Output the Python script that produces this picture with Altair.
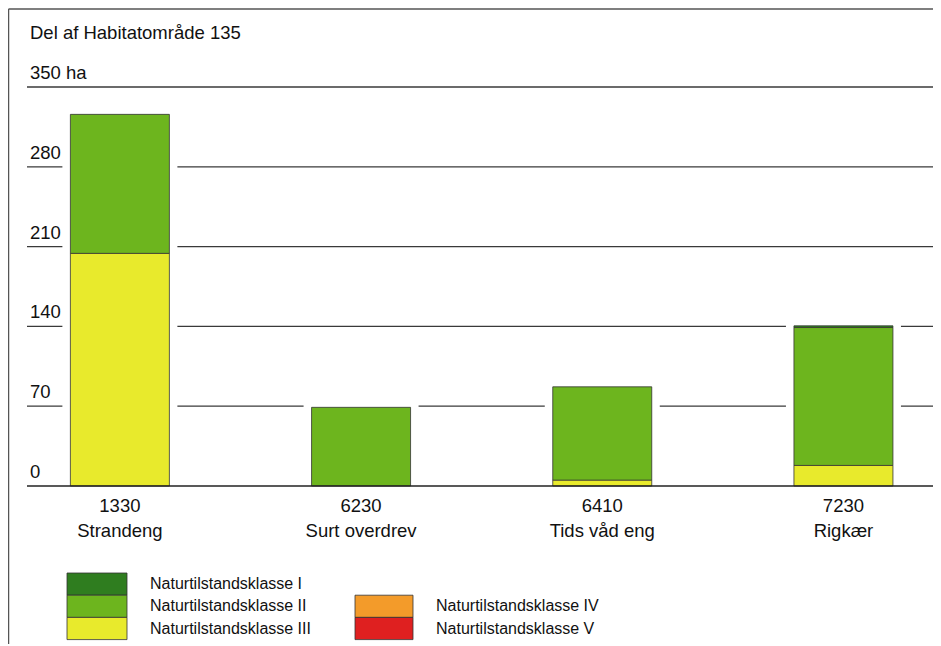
import altair as alt
import pandas as pd

# ---------------- data ----------------
codes = ["1330", "6230", "6410", "7230"]
names = ["Strandeng", "Surt overdrev", "Tids våd eng", "Rigkær"]
klasse_I = [0, 0, 0, 1.5]
klasse_II = [122, 69, 82, 121]
klasse_III = [204, 0, 5, 18]
klasse_IV = [0, 0, 0, 0]
klasse_V = [0, 0, 0, 0]

class_names = ["Naturtilstandsklasse I", "Naturtilstandsklasse II", "Naturtilstandsklasse III",
               "Naturtilstandsklasse IV", "Naturtilstandsklasse V"]
class_colors = ["#2f7d1f", "#6db51e", "#e8ea2c", "#f39b2a", "#df2020"]

tick_values = [0, 70, 140, 210, 280, 350]
tick_labels = ["0", "70", "140", "210", "280", "350 ha"]
title_text = "Del af Habitatområde 135"

# ---------------- tables ----------------
series = [klasse_I, klasse_II, klasse_III, klasse_IV, klasse_V]
stack_rank = [3, 2, 1, 4, 5]  # III at bottom, then II, then I
rows = []
for ci, vals in enumerate(series):
    for code, v in zip(codes, vals):
        if v > 0:
            rows.append({"code": code, "klasse": class_names[ci], "value": v, "rank": stack_rank[ci]})
bars = pd.DataFrame(rows)

totals = pd.DataFrame({"code": codes,
                       "total": [sum(s[i] for s in series) for i in range(len(codes))]})
xlab = pd.DataFrame({"code": codes, "label": [c + "\n" + n for c, n in zip(codes, names)]})
ticks = pd.DataFrame({"tick": tick_values, "label": tick_labels})
grid = pd.DataFrame({"tick": tick_values[1:]})
base = pd.DataFrame({"tick": [0]})
title_df = pd.DataFrame({"t": [title_text]})

# legend layout (pixel positions relative to plot area)
W, H = 906, 399
leg_col_x = [40, 328]
leg_col_text = [123, 409]
leg_row_h = 22.2
leg_top = 486
leg_rows = [(0, 0), (0, 1), (0, 2), (1, 1), (1, 2)]
leg = pd.DataFrame({
    "klasse": class_names,
    "x0": [leg_col_x[c] for c, r in leg_rows],
    "x1": [leg_col_x[c] + (60 if c == 0 else 58) for c, r in leg_rows],
    "y0": [leg_top + r * leg_row_h for c, r in leg_rows],
    "y1": [leg_top + (r + 1) * leg_row_h for c, r in leg_rows],
    "tx": [leg_col_text[c] for c, r in leg_rows],
    "ty": [leg_top + (r + 0.5) * leg_row_h for c, r in leg_rows],
})

FONT = "Liberation Sans"
xscale = alt.Scale(domain=codes, paddingInner=0.5896, paddingOuter=0.173, align=0.52)
yscale = alt.Scale(domain=[0, 350], nice=False, zero=True)
cscale = alt.Scale(domain=class_names, range=class_colors)

grid_layer = alt.Chart(grid).mark_rule(color="#3a3a3a", strokeWidth=1.3).encode(
    x=alt.value(0), x2=alt.value(W), y=alt.Y("tick:Q", scale=yscale, axis=None))

mask_layer = alt.Chart(totals).mark_bar(color="white", width=115).encode(
    x=alt.X("code:N", scale=xscale, axis=None, sort=codes),
    y=alt.Y("total:Q", scale=yscale, axis=None),
    yOffset=alt.value(-5))

bar_layer = alt.Chart(bars).mark_bar(width=99, stroke="#333", strokeWidth=0.8).encode(
    x=alt.X("code:N", scale=xscale, axis=None, sort=codes),
    y=alt.Y("value:Q", stack="zero", scale=yscale, axis=None),
    color=alt.Color("klasse:N", scale=cscale, legend=None),
    order=alt.Order("rank:Q"))

base_layer = alt.Chart(base).mark_rule(color="#222", strokeWidth=1.6).encode(
    x=alt.value(0), x2=alt.value(W), y=alt.Y("tick:Q", scale=yscale, axis=None))

tick_text = alt.Chart(ticks).mark_text(align="left", baseline="alphabetic", dy=-8,
                                       font=FONT, fontSize=18.5, color="#111").encode(
    x=alt.value(3), y=alt.Y("tick:Q", scale=yscale, axis=None), text="label:N")

xlab_text = alt.Chart(xlab).mark_text(align="center", baseline="alphabetic", lineBreak="\n",
                                      lineHeight=25, font=FONT, fontSize=18.5, color="#111").encode(
    x=alt.X("code:N", scale=xscale, axis=None, sort=codes), y=alt.value(425), text="label:N")

title_layer = alt.Chart(title_df).mark_text(align="left", baseline="alphabetic",
                                            font=FONT, fontSize=18.5, color="#111").encode(
    x=alt.value(3), y=alt.value(-48), text="t:N")

leg_rect = alt.Chart(leg).mark_rect(stroke="#333", strokeWidth=0.8).encode(
    x=alt.X("x0:Q", scale=None), x2="x1:Q",
    y=alt.Y("y0:Q", scale=None), y2="y1:Q",
    color=alt.Color("klasse:N", scale=cscale, legend=None))

leg_text = alt.Chart(leg).mark_text(align="left", baseline="middle", font=FONT,
                                    fontSize=16, color="#111").encode(
    x=alt.X("tx:Q", scale=None), y=alt.Y("ty:Q", scale=None), text="klasse:N")

frame = pd.DataFrame({"x0": [-18.5, -18.5], "x1": [W, -18.5],
                      "y0": [-78, -78], "y1": [-78, H + 200]})
frame_layer = alt.Chart(frame).mark_rule(color="#555", strokeWidth=1.5).encode(
    x=alt.X("x0:Q", scale=None), x2="x1:Q",
    y=alt.Y("y0:Q", scale=None), y2="y1:Q")

chart = alt.layer(
    grid_layer, mask_layer, bar_layer, base_layer, tick_text, xlab_text,
    title_layer, leg_rect, leg_text, frame_layer
).properties(
    width=W, height=H,
    autosize=alt.AutoSizeParams(type="none"),
    padding={"left": 19, "top": 79, "right": 0, "bottom": 158},
    background="white"
).configure_view(stroke=None)

chart.save("out.html", embed_options={"renderer": "svg", "actions": False})
